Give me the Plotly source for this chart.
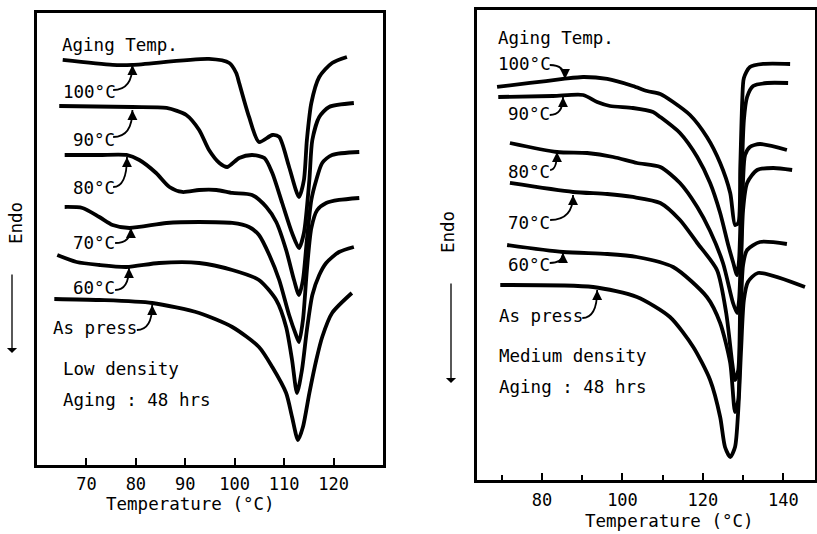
import plotly.graph_objects as go

# ---------------- data (temperature in °C, heat flow in arbitrary units) -------------
# Left panel: Low density
low_100_T = [65.2, 75.3, 79.3, 94.8, 98.9, 100.3, 100.9, 102.9, 104.9, 107.6, 109.0, 111.0, 113.0, 114.0, 114.6, 115.5, 117.1, 119.7, 122.7]
low_100_S = [405, 400, 400, 406, 402, 392, 382, 348, 323, 330, 328, 298, 268, 285, 325, 362, 388, 402, 408]
low_90_T = [64.5, 79.3, 86.2, 90.2, 92.8, 94.8, 96.9, 98.5, 100.9, 103.5, 106.0, 107.6, 109.6, 111.6, 113.0, 114.0, 115.1, 115.7, 117.1, 119.1, 124.1]
low_90_S = [359, 358, 357, 350, 335, 315, 302, 298, 307, 310, 307, 292, 262, 232, 217, 232, 285, 325, 348, 358, 362]
low_80_T = [65.6, 72.6, 78.1, 80.7, 84.1, 86.8, 89.4, 92.8, 96.3, 99.5, 103.5, 106.4, 108.4, 110.4, 112.0, 113.0, 113.8, 114.6, 115.5, 116.5, 117.7, 119.7, 125.2]
low_80_S = [310, 310, 310, 305, 292, 278, 273, 275, 275, 272, 270, 258, 243, 215, 185, 170, 185, 225, 265, 285, 302, 310, 313]
low_70_T = [65.6, 69.2, 72.6, 75.3, 78.7, 86.2, 92.8, 99.5, 102.9, 104.9, 107.0, 109.0, 111.0, 112.4, 113.0, 113.8, 114.6, 115.5, 116.7, 118.5, 121.1, 125.2]
low_70_S = [258, 257, 248, 240, 237, 242, 243, 242, 238, 230, 210, 185, 150, 130, 123, 145, 195, 237, 255, 262, 265, 267]
low_60_T = [64.1, 68.0, 72.6, 78.1, 84.7, 92.8, 99.5, 104.9, 108.4, 110.4, 111.6, 112.6, 113.6, 114.6, 115.7, 117.1, 118.5, 121.1, 124.1]
low_60_S = [210, 203, 200, 198, 202, 202, 195, 185, 165, 138, 105, 72, 95, 135, 170, 190, 202, 213, 218]
low_ap_T = [63.5, 72.6, 83.3, 92.8, 99.5, 104.9, 107.6, 110.4, 111.6, 112.8, 113.8, 115.1, 116.5, 117.7, 119.7, 123.7]
low_ap_S = [166, 165, 162, 152, 138, 118, 98, 72, 48, 25, 38, 72, 105, 128, 152, 172]

# Right panel: Medium density
med_100_T = [68.8, 77.0, 85.2, 90.2, 96.2, 102.6, 106.1, 109.4, 112.6, 116.8, 121.0, 124.3, 126.8, 128.0, 128.8, 129.3, 129.8, 130.2, 131.7, 135.0, 141.7]
med_100_S = [393, 397, 401, 403, 401, 394, 389, 386, 378, 365, 343, 317, 287, 255, 257, 313, 380, 402, 413, 416, 416]
med_90_T = [69.1, 82.7, 90.2, 93.7, 96.9, 102.6, 107.6, 109.4, 114.3, 118.6, 121.8, 124.3, 126.3, 127.5, 128.5, 129.0, 129.5, 130.2, 131.0, 132.5, 136.0, 141.2]
med_90_S = [383, 384, 385, 378, 374, 372, 368, 363, 347, 323, 297, 267, 235, 218, 205, 220, 280, 360, 383, 394, 397, 397]
med_80_T = [72.0, 83.7, 91.2, 97.7, 103.6, 109.4, 114.3, 118.6, 121.8, 125.0, 127.5, 128.5, 129.0, 129.5, 130.0, 130.5, 131.7, 134.2, 140.9]
med_80_S = [337, 328, 327, 323, 317, 313, 297, 273, 249, 217, 177, 167, 180, 230, 300, 325, 333, 336, 330]
med_70_T = [72.0, 87.7, 96.2, 102.6, 109.4, 114.3, 118.6, 123.5, 125.8, 127.3, 128.0, 128.8, 129.3, 130.0, 131.0, 133.5, 137.5, 142.2]
med_70_S = [297, 288, 286, 283, 277, 260, 237, 210, 167, 117, 100, 110, 180, 270, 297, 310, 312, 310]
med_60_T = [71.3, 85.2, 96.2, 103.6, 112.6, 121.0, 124.3, 126.8, 128.0, 128.8, 129.3, 130.0, 131.0, 134.2, 140.9]
med_60_S = [235, 228, 226, 223, 213, 183, 157, 117, 68, 80, 150, 215, 230, 238, 236]
med_ap_T = [69.6, 92.7, 103.6, 111.8, 117.6, 121.8, 124.3, 125.5, 126.8, 128.0, 128.8, 129.5, 130.2, 131.2, 133.7, 145.4]
med_ap_S = [195, 193, 183, 163, 133, 100, 63, 33, 23, 33, 70, 130, 180, 198, 207, 193]

series_labels = ["100°C", "90°C", "80°C", "70°C", "60°C", "As press"]
low_curves = [(low_100_T, low_100_S), (low_90_T, low_90_S), (low_80_T, low_80_S),
              (low_70_T, low_70_S), (low_60_T, low_60_S), (low_ap_T, low_ap_S)]
med_curves = [(med_100_T, med_100_S), (med_90_T, med_90_S), (med_80_T, med_80_S),
              (med_70_T, med_70_S), (med_60_T, med_60_S), (med_ap_T, med_ap_S)]

low_ticks = [70, 80, 90, 100, 110, 120]
med_ticks = [80, 100, 120, 140]

# ---------------- figure ----------------
FONT = "DejaVu Sans Mono"
fig = go.Figure()

for (T, S), name in zip(low_curves, series_labels):
    fig.add_trace(go.Scatter(x=T, y=S, mode="lines", name=name, xaxis="x", yaxis="y",
                             line=dict(color="black", width=3.8, shape="spline", smoothing=0.7),
                             showlegend=False, hoverinfo="skip"))
for (T, S), name in zip(med_curves, series_labels):
    fig.add_trace(go.Scatter(x=T, y=S, mode="lines", name=name, xaxis="x2", yaxis="y2",
                             line=dict(color="black", width=3.8, shape="spline", smoothing=0.7),
                             showlegend=False, hoverinfo="skip"))

axis_common = dict(showline=True, linecolor="black", linewidth=3, mirror=True,
                   showgrid=False, zeroline=False)

fig.update_layout(
    width=817, height=534, margin=dict(l=0, r=0, t=0, b=0),
    paper_bgcolor="white", plot_bgcolor="white",
    font=dict(family=FONT, color="black", size=17),
    xaxis=dict(domain=[0.0453, 0.4688], range=[60, 130], tickvals=low_ticks,
               ticks="inside", ticklen=7, tickwidth=1.5, tickcolor="black",
               tickfont=dict(size=17, family=FONT), ticklabelstandoff=2,
               anchor="y", **axis_common),
    yaxis=dict(domain=[0.1292, 0.9757], range=[0, 452], showticklabels=False,
               ticks="", anchor="x", **axis_common),
    xaxis2=dict(domain=[0.5838, 0.9976], range=[63.8, 147.9], tick0=80, dtick=20,
                ticks="inside", ticklen=7, tickwidth=1.5, tickcolor="black",
                minor=dict(dtick=10, tick0=80, ticks="inside", ticklen=5, tickwidth=1.5, tickcolor="black"),
                tickfont=dict(size=17, family=FONT), ticklabelstandoff=3,
                anchor="y2", **axis_common),
    yaxis2=dict(domain=[0.1011, 0.9813], range=[0, 470], showticklabels=False,
                ticks="", anchor="x2", **axis_common),
)

annotations = []
shapes = []

def add_text(text, x, y, xr, yr, **kw):
    d = dict(text=text, x=x, y=y, xref=xr, yref=yr, showarrow=False,
             xanchor="left", yanchor="middle", font=dict(size=17.5, family=FONT, color="black"))
    d.update(kw)
    annotations.append(d)

def add_hook(x0, y0, x1, y1, xr, yr):
    # curved leader from label to curve, with arrowhead at (x1, y1)
    shapes.append(dict(type="path", xref=xr, yref=yr,
                       path=f"M {x0},{y0} Q {x1},{y0} {x1},{y1}",
                       line=dict(color="black", width=1.8)))
    annotations.append(dict(x=x1, y=y1, xref=xr, yref=yr, text="", showarrow=True,
                            ax=0, ay=(8 if y1 > y0 else -8), arrowhead=2, arrowsize=1.1,
                            arrowwidth=1.8, arrowcolor="black", standoff=0))

# left panel texts
add_text("Aging Temp.", 64.6, 420, "x", "y")
left_label_pos = [(64.8, 373), (66.9, 325), (66.9, 277), (66.9, 222), (66.9, 177), (62.8, 137)]
left_hooks = [(75.4, 375, 79.3, 400), (75.4, 328, 79.3, 355), (75.4, 278, 78.2, 308),
              (75.8, 222, 79.0, 237), (75.8, 175, 78.6, 197), (80.2, 135, 83.3, 160)]
for name, (lx, ly), hk in zip(series_labels, left_label_pos, left_hooks):
    add_text(name, lx, ly, "x", "y")
    add_hook(*hk, "x", "y")
add_text("Low density", 64.8, 96, "x", "y")
add_text("Aging : 48 hrs", 64.8, 65, "x", "y")

# right panel texts
add_text("Aging Temp.", 68.6, 442, "x2", "y2")
right_label_pos = [(68.6, 416), (71.1, 366), (71.1, 308), (71.1, 257), (71.1, 215), (68.9, 164)]
right_hooks = [(81.9, 415, 85.7, 401), (81.9, 365, 85.2, 383), (82.0, 310, 83.7, 328),
               (82.0, 260, 87.7, 285), (81.9, 217, 85.2, 227), (90.0, 162, 93.7, 190)]
for name, (lx, ly), hk in zip(series_labels, right_label_pos, right_hooks):
    add_text(name, lx, ly, "x2", "y2")
    add_hook(*hk, "x2", "y2")
add_text("Medium density", 68.9, 124, "x2", "y2")
add_text("Aging : 48 hrs", 68.9, 93, "x2", "y2")

# axis titles
for xc, yc in [(0.2332, 0.0562), (0.8195, 0.0243)]:
    annotations.append(dict(text="Temperature (°C)", x=xc, y=yc, xref="paper", yref="paper",
                            showarrow=False, xanchor="center", yanchor="middle",
                            font=dict(size=17.5, family=FONT, color="black")))

# Endo labels and arrows
for xc, yc in [(0.0196, 0.5824), (0.5483, 0.5655)]:
    annotations.append(dict(text="Endo", x=xc, y=yc, xref="paper", yref="paper", textangle=-90,
                            showarrow=False, xanchor="center", yanchor="middle",
                            font=dict(size=17.5, family=FONT, color="black")))
for xc, ytip, length in [(12 / 817, 1 - 353 / 534, 80), (451 / 817, 1 - 383 / 534, 101)]:
    annotations.append(dict(text="", x=xc, y=ytip, xref="paper", yref="paper", showarrow=True,
                            ax=0, ay=-length, arrowhead=1, arrowsize=1.3, arrowwidth=1.3,
                            arrowcolor="black", standoff=0))

fig.update_layout(annotations=annotations, shapes=shapes)
fig.write_html("out.html")
